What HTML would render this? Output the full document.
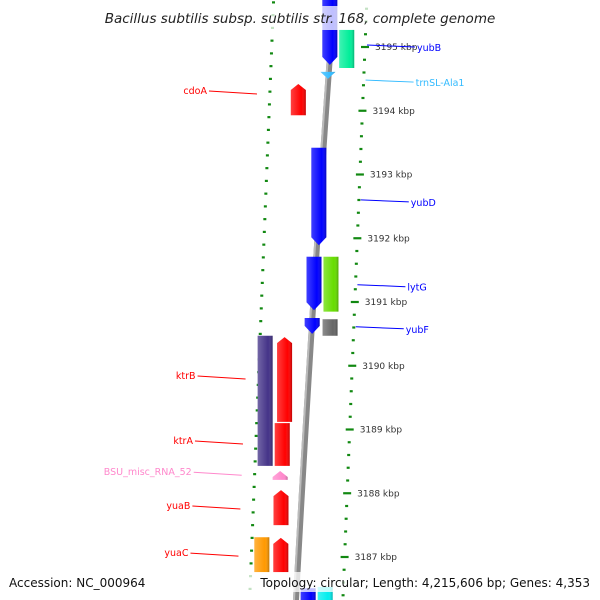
<!DOCTYPE html>
<html><head><meta charset="utf-8"><style>
html,body{margin:0;padding:0;background:#fff;}
svg{display:block;font-family:"DejaVu Sans","Liberation Sans",sans-serif;}
</style></head><body>
<svg id="map" width="600" height="600" viewBox="0 0 600 600">
<defs>
<linearGradient id="shade" x1="0" x2="1" y1="0" y2="0">
<stop offset="0" stop-color="#fff" stop-opacity="0.25"/><stop offset="0.7" stop-color="#fff" stop-opacity="0"/><stop offset="1" stop-color="#000" stop-opacity="0.25"/>
</linearGradient>
</defs>
<g id="ticks"></g>
<path d="M334,0 Q312,300 296,600" stroke="#888" stroke-width="6" fill="none"/>
<path d="M332,0 Q310,300 294,600" stroke="#bbb" stroke-width="2" fill="none"/>
<g id="genes"></g>
<g id="labels"></g>
<rect x="95" y="6" width="410" height="24" fill="#fff" opacity="0.75"/>
<text x="300" y="23" text-anchor="middle" font-style="italic" font-size="13.5" fill="#222">Bacillus subtilis subsp. subtilis str. 168, complete genome</text>
<rect x="0" y="572" width="600" height="20" fill="#fff" opacity="0.75"/>
<text x="9" y="587" font-size="12" fill="#111">Accession: NC_000964</text>
<text x="590" y="587" text-anchor="end" font-size="12" fill="#111">Topology: circular; Length: 4,215,606 bp; Genes: 4,353</text>
</svg>
<script>
// kbp positions
const tickKbp = [3195,3194,3193,3192,3191,3190,3189,3188,3187];
// genes: start/end in kbp, track offset, colour, direction
const geneNames = ["yubB","seafoam","trnSL-Ala1","cdoA","yubD","lytG","lytG2","yubF","yubF2","ktrB","ktrA","ktrA2","BSU_misc_RNA_52","yuaB","orange","yuaC","bottom-blue","bottom-cyan"];
const geneTop =    [3195.74,3195.27,3194.61,3194.42,3193.42,3191.71,3191.71,3190.75,3190.73,3190.47,3190.45,3189.1,3188.35,3188.05,3187.31,3187.3,3186.51,3186.53];
const geneBottom = [3194.72,3194.67,3194.5,3193.93,3191.89,3190.87,3190.85,3190.5,3190.47,3188.43,3189.12,3188.43,3188.21,3187.5,3186.76,3186.76,3186.3,3186.3];
const geneTrack =  [-1,17,0,-28,-1,0,17,1,19,-41,-23,-21,-21,-18,-34,-15,15,32];
const geneDir =    ["down","none","tri","up","down","down","none","down","none","none","up","none","up","up","none","up","none","none"];
const geneColor =  ["#0000ff","#00ee99","#33bbff","#ff0000","#0000ff","#0000ff","#66dd00","#0000ff","#666666","#443388","#ff0000","#ff0000","#ff88cc","#ff0000","#ff9900","#ff0000","#0000ff","#00eeee"];
const labelText =  ["yubB","trnSL-Ala1","yubD","lytG","yubF","cdoA","ktrB","ktrA","BSU_misc_RNA_52","yuaB","yuaC"];
const labelKbp =   [3195.0,3194.45,3192.57,3191.24,3190.58,3194.31,3189.84,3188.82,3188.33,3187.8,3187.06];
const labelSide =  ["r","r","r","r","r","l","l","l","l","l","l"];
const labelColor = ["#0000ff","#33bbff","#0000ff","#0000ff","#0000ff","#ff0000","#ff0000","#ff0000","#ff88cc","#ff0000","#ff0000"];

const NS="http://www.w3.org/2000/svg";
function yOf(k){return 47+(3195-k)*63.75;}
function backX(y){return 333-0.067*y;}
function rightX(y){return 365-0.04*(y-47);}
function leftX(y){return 272-0.04*(y-40);}
function mk(tag,attrs,parent){const e=document.createElementNS(NS,tag);for(const k in attrs)e.setAttribute(k,attrs[k]);parent.appendChild(e);return e;}

const tg=document.getElementById('ticks');
for(let k=3196;k>=3186;k-=0.2){
  const y=yOf(k); if(y<-5||y>605)continue;
  const major=Math.abs(k-Math.round(k))<0.01;
  const rx=rightX(y);
  const t=mk('line',{x1:rx-(major?4:1.5),x2:rx+(major?4:1.5),y1:y,y2:y,stroke:'#118811','stroke-width':2.2},tg);
  
  
  const ly=y+6.4; const lx=leftX(ly);
  const lmaj=Math.abs(k-0.5-Math.round(k-0.5))<0.01;
  const l=mk('line',{x1:lx-(lmaj?5:1.5),x2:lx+(lmaj?4:1.5),y1:ly,y2:ly,stroke:'#118811','stroke-width':2.2},tg);
  
  
}
tickKbp.forEach(k=>{
  const y=yOf(k);
  const t=mk('text',{x:rightX(y)+10,y:y+3,'font-size':9,fill:'#333'},tg);
  t.textContent=k+' kbp';
  
  
});

const gg=document.getElementById('genes');
geneNames.forEach((n,i)=>{
  const y1=yOf(geneTop[i]), y2=yOf(geneBottom[i]);
  const ym=(y1+y2)/2; const cx=backX(ym)+geneTrack[i]; const w=15;
  const x0=cx-w/2, x1=cx+w/2;
  let d;
  if(geneDir[i]==="down") d=`M${x0},${y1} L${x1},${y1} L${x1},${y2-8} L${cx},${y2} L${x0},${y2-8} Z`;
  else if(geneDir[i]==="up") d=`M${cx},${y1} L${x1},${y1+6} L${x1},${y2} L${x0},${y2} L${x0},${y1+6} Z`;
  else if(geneDir[i]==="tri") d=`M${x0},${y1} L${x1},${y1} L${cx},${y2} Z`;
  else d=`M${x0},${y1} L${x1},${y1} L${x1},${y2} L${x0},${y2} Z`;
  const p=mk('path',{d:d,fill:geneColor[i]},gg);
  
  
  const s=mk('path',{d:d,fill:'url(#shade)'},gg);
  
  
});

const lg=document.getElementById('labels');
labelText.forEach((t,i)=>{
  const y=yOf(labelKbp[i]);
  let line,txt;
  if(labelSide[i]==="r"){
    const x=rightX(y)+2;
    line=mk('line',{x1:x,y1:y-2,x2:x+48,y2:y,stroke:labelColor[i],'stroke-width':1},lg);
    txt=mk('text',{x:x+50,y:y+4,'font-size':9.5,fill:labelColor[i]},lg);
  } else {
    const x=leftX(y)-13;
    line=mk('line',{x1:x,y1:y+3,x2:x-48,y2:y,stroke:labelColor[i],'stroke-width':1},lg);
    txt=mk('text',{x:x-50,y:y+3,'font-size':9.5,fill:labelColor[i],'text-anchor':'end'},lg);
  }
  txt.textContent=t;
  
  
  
  
});
</script>
</body></html>
